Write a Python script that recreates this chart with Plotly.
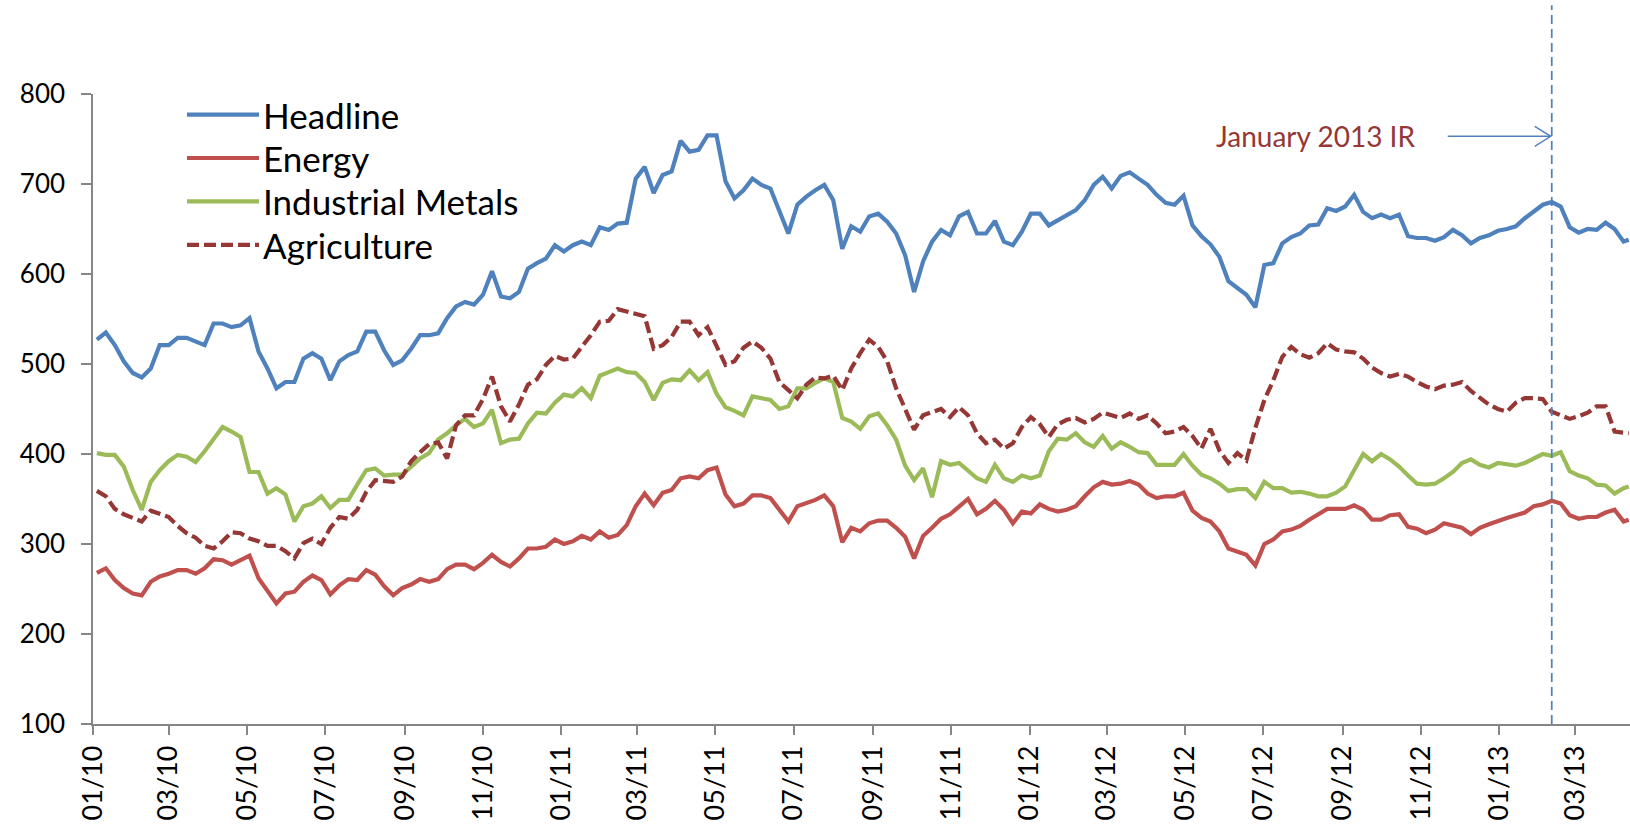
import plotly.graph_objects as go
import pandas as pd

# ---- data (weekly readings, 2010-01-04 ... 2013-04-08, plus last day) ----
dates = list(pd.date_range("2010-01-04", periods=171, freq="7D").strftime("%Y-%m-%d")) + ["2013-04-12"]

headline = [
    527, 535, 521, 503, 490, 485, 495, 521, 521, 529,
    529, 525, 521, 545, 545, 541, 543, 551, 514, 495,
    473, 480, 480, 506, 512, 506, 482, 503, 510, 514,
    536, 536, 515, 499, 504, 517, 532, 532, 534, 551,
    564, 569, 566, 577, 603, 575, 573, 580, 606, 612,
    617, 632, 625, 632, 636, 632, 652, 649, 656, 657,
    706, 719, 690, 710, 714, 748, 736, 738, 754, 754,
    703, 684, 693, 706, 699, 695, 670, 645, 677, 686,
    693, 699, 682, 628, 653, 647, 664, 667, 658, 645,
    621, 580, 614, 636, 649, 643, 664, 669, 645, 645,
    659, 636, 632, 647, 667, 667, 654, 660, 666, 671,
    682, 699, 708, 695, 709, 713, 706, 699, 688, 679,
    677, 687, 654, 642, 633, 619, 592, 584, 577, 563,
    610, 612, 634, 641, 645, 654, 655, 673, 670, 675,
    688, 669, 662, 666, 662, 666, 642, 640, 640, 637,
    641, 649, 643, 634, 640, 643, 648, 650, 653, 662,
    669, 677, 680, 675, 652, 646, 650, 649, 657, 650,
    636, 638,
]

energy = [
    268, 273, 260, 251, 245, 243, 258, 264, 267, 271,
    271, 267, 273, 283, 282, 277, 282, 287, 262, 247,
    234, 245, 247, 258, 265, 260, 244, 254, 261, 260,
    271, 266, 253, 243, 251, 255, 261, 258, 261, 272,
    277, 277, 272, 279, 288, 280, 275, 284, 295, 295,
    297, 305, 300, 303, 309, 305, 314, 307, 310, 321,
    342, 356, 343, 357, 360, 373, 375, 373, 382, 385,
    355, 342, 345, 354, 354, 351, 337, 325, 342, 345,
    349, 354, 342, 302, 318, 314, 323, 326, 326, 318,
    308, 284, 309, 318, 328, 333, 342, 350, 333, 339,
    348, 338, 323, 336, 334, 344, 339, 336, 338, 342,
    353, 363, 369, 366, 367, 370, 366, 356, 351, 353,
    353, 357, 337, 329, 325, 314, 295, 291, 288, 276,
    300, 305, 314, 316, 320, 327, 333, 339, 339, 339,
    343, 338, 327, 327, 332, 333, 319, 317, 312, 316,
    323, 321, 318, 311, 318, 322, 326, 329, 332, 335,
    342, 344, 348, 345, 332, 328, 330, 330, 335, 338,
    325, 327,
]

industrial_metals = [
    401, 399, 399, 386, 360, 338, 369, 382, 392, 399,
    397, 391, 403, 417, 430, 425, 419, 380, 380, 356,
    362, 355, 325, 342, 345, 353, 340, 349, 349, 366,
    382, 384, 376, 377, 377, 386, 395, 401, 416, 423,
    432, 439, 430, 434, 449, 412, 416, 417, 434, 446,
    445, 457, 466, 464, 473, 462, 487, 491, 495, 491,
    490, 480, 460, 479, 483, 482, 493, 482, 491, 467,
    452, 448, 443, 464, 462, 460, 450, 453, 473, 473,
    479, 484, 480, 440, 436, 428, 442, 445, 432, 416,
    387, 371, 384, 352, 392, 388, 390, 382, 373, 369,
    388, 373, 369, 376, 373, 376, 403, 417, 416, 423,
    413, 408, 420, 406, 413, 408, 402, 401, 388, 388,
    388, 400, 387, 377, 373, 367, 359, 361, 361, 351,
    369, 362, 362, 357, 358, 356, 353, 353, 357, 364,
    382, 400, 392, 400, 394, 386, 376, 367, 366, 367,
    373, 380, 390, 394, 388, 385, 390, 388, 387, 390,
    395, 400, 398, 402, 381, 376, 373, 366, 365, 356,
    362, 364,
]

agriculture = [
    359, 353, 339, 333, 329, 325, 337, 333, 330, 320,
    312, 307, 298, 295, 303, 313, 312, 306, 303, 298,
    298, 292, 284, 301, 306, 300, 318, 330, 328, 338,
    358, 371, 370, 369, 375, 392, 402, 411, 413, 395,
    432, 443, 443, 461, 486, 453, 436, 455, 477, 483,
    499, 509, 505, 506, 519, 532, 547, 548, 561, 558,
    556, 553, 517, 521, 530, 547, 547, 532, 541, 521,
    499, 503, 518, 525, 518, 506, 480, 471, 462, 477,
    485, 484, 487, 471, 495, 512, 527, 519, 503, 473,
    449, 427, 443, 447, 450, 441, 452, 443, 423, 412,
    416, 406, 412, 430, 441, 433, 419, 433, 438, 440,
    435, 439, 446, 443, 440, 445, 439, 443, 434, 423,
    425, 430, 420, 406, 428, 404, 390, 401, 393, 429,
    460, 482, 508, 519, 511, 507, 512, 523, 516, 514,
    513, 506, 496, 490, 486, 489, 486, 480, 475, 472,
    476, 477, 480, 470, 463, 455, 450, 447, 457, 462,
    462, 461, 447, 443, 439, 442, 446, 453, 453, 425,
    423, 423,
]

series_names = ["Headline", "Energy", "Industrial Metals", "Agriculture"]
series_values = [headline, energy, industrial_metals, agriculture]

ir_date = "2013-02-11"
ir_label = "January 2013 IR"
arrow_level = 753

# ---- styling ----
colors = ["#4F81BD", "#C0504D", "#9BBB59", "#953735"]
dashes = ["solid", "solid", "solid", "12px,5px"]
LW = 4.2
FONT = "Lato, 'Open Sans', sans-serif"
AXIS = "#868686"

fig = go.Figure()
for name, vals, c, d in zip(series_names, series_values, colors, dashes):
    fig.add_trace(go.Scatter(x=dates, y=vals, mode="lines", name=name,
                             line=dict(color=c, width=LW, dash=d),
                             showlegend=False))

# plot-area geometry (px) used for the hand-made legend
L, R, T, B = 93, 0, 94, 102
PW, PH = 1630 - L - R, 826 - T - B

def px(xp):
    return (xp - L) / PW

def py(yp):
    return (826 - B - yp) / PH

shapes = []
annotations = []
legend_y = [114.7, 158.0, 201.4, 244.8]
for name, c, d, yy in zip(series_names, colors, dashes, legend_y):
    shapes.append(dict(type="line", xref="paper", yref="paper",
                       x0=px(187), x1=px(259), y0=py(yy), y1=py(yy),
                       line=dict(color=c, width=LW, dash=d)))
    annotations.append(dict(xref="paper", yref="paper", x=px(261), y=py(yy),
                            xanchor="left", yanchor="middle", showarrow=False,
                            text=name, font=dict(family=FONT, size=35, color="black")))

# vertical dashed line
shapes.append(dict(type="line", xref="x", yref="paper", x0=ir_date, x1=ir_date,
                   y0=0, y1=1.141, line=dict(color="#4F81BD", width=1.75, dash="9px,5px")))
# arrow shaft
shapes.append(dict(type="line", xref="x", xsizemode="pixel", xanchor=ir_date,
                   x0=-104, x1=-1, yref="y", y0=arrow_level, y1=arrow_level,
                   line=dict(color="#4F81BD", width=1.4)))
# open arrow head
shapes.append(dict(type="path", xref="x", xsizemode="pixel", xanchor=ir_date,
                   yref="y", ysizemode="pixel", yanchor=arrow_level,
                   path="M -17,10 L -1,0 L -17,-10",
                   line=dict(color="#4F81BD", width=1.4)))
annotations.append(dict(xref="x", yref="y", x=ir_date, y=arrow_level, xshift=-236,
                        xanchor="center", yanchor="middle", showarrow=False,
                        text=ir_label, font=dict(family=FONT, size=28, color="#953735")))

fig.update_layout(
    width=1630, height=826,
    margin=dict(l=L, r=R, t=T, b=B, pad=0),
    paper_bgcolor="white", plot_bgcolor="white",
    showlegend=False,
    font=dict(family=FONT, color="black"),
    shapes=shapes, annotations=annotations,
    xaxis=dict(type="date", range=["2010-01-01", "2013-04-13"],
               tick0="2010-01-01", dtick="M2", tickformat="%m/%y",
               tickangle=-90, ticks="outside", ticklen=9, tickwidth=1.5,
               tickcolor=AXIS, showline=True, linecolor=AXIS, linewidth=1.5,
               showgrid=False, zeroline=False,
               tickfont=dict(family=FONT, size=27, color="black")),
    yaxis=dict(range=[100, 800], tick0=100, dtick=100, ticks="outside",
               ticklen=10, tickwidth=1.5, tickcolor=AXIS, showline=True,
               linecolor=AXIS, linewidth=1.5, showgrid=False, zeroline=False,
               ticklabelstandoff=11,
               tickfont=dict(family=FONT, size=26, color="black")),
)

fig.write_html("out.html", config={"displayModeBar": False},
               post_script="document.body.style.margin='0';")
